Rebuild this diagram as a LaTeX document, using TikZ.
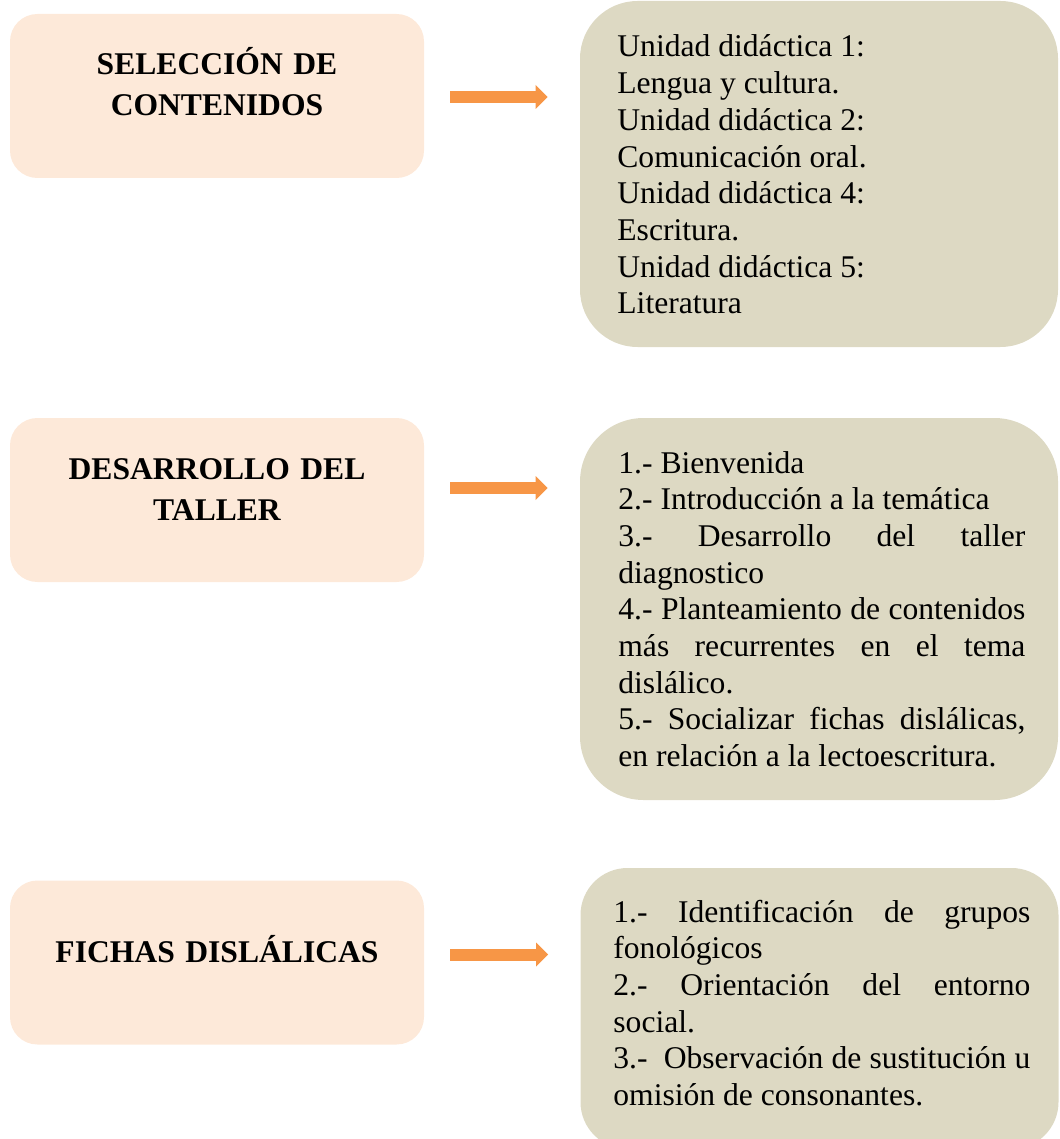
\documentclass[tikz,border=0pt]{standalone}
\usepackage{fontspec}
\setmainfont{Liberation Serif}
\usetikzlibrary{arrows.meta,positioning}
\hyphenpenalty=10000
\exhyphenpenalty=10000
\tolerance=10000
\hbadness=10000
\definecolor{durazno}{HTML}{FDE9D9}
\definecolor{arena}{HTML}{DDD9C3}
\definecolor{naranja}{HTML}{F79646}
\tikzstyle{etapa}=[rectangle,rounded corners=13.7pt,fill=durazno,minimum width=207pt,minimum height=82pt,inner sep=0pt]
\tikzstyle{detalle}=[rectangle,fill=arena,minimum width=239pt,inner sep=0pt]
\tikzstyle{titulo}=[text width=200pt,align=center,inner sep=0pt,anchor=base,font=\fontsize{15.8}{20.5}\selectfont\bfseries]
\tikzstyle{lista}=[align=justify,inner sep=0pt,anchor=base west,font=\fontsize{15.8}{18.35}\selectfont]
\tikzstyle{flecha}=[draw=naranja,line width=6pt,-{Triangle[length=6pt,width=12pt,line width=0pt]}]

\begin{document}
\begin{tikzpicture}[x=0.5pt,y=-0.5pt]
    \useasboundingbox (0,0) rectangle (1059,1139);
    % First we draw the boxes
    \foreach \pos/\name in {{(217,96)/s1}, {(217,500)/s2}, {(217,962.5)/s3}}
        \node[etapa] (\name) at \pos {};
    \node[detalle,minimum height=173pt,rounded corners=28.8pt] (d1) at (819,174) {};
    \node[detalle,minimum height=191pt,rounded corners=31.8pt] (d2) at (819,609) {};
    \node[detalle,minimum height=140.5pt,rounded corners=23.5pt] (d3) at (819.5,1008.5) {};

    % Titles of the stages
    \node[titulo] (n1) at (217,75) {SELECCIÓN DE\\CONTENIDOS};
    \node[titulo] (n2) at (217,479) {DESARROLLO DEL\\TALLER};
    \node[titulo] (n3) at (217,962) {FICHAS DISLÁLICAS};

    % Contents of each stage
    \node[lista,text width=203.5pt] (c1) at (617,57) {Unidad didáctica 1:\par
        Lengua y cultura.\par
        Unidad didáctica 2:\par
        Comunicación oral.\par
        Unidad didáctica 4:\par
        Escritura.\par
        Unidad didáctica 5:\par
        Literatura};
    \node[lista,text width=203.5pt] (c2) at (618,473) {1.- Bienvenida\par
        2.- Introducción a la temática\par
        3.- Desarrollo del taller\linebreak diagnostico\par
        4.- Planteamiento de contenidos\linebreak más recurrentes en el tema\linebreak dislálico.\par
        5.- Socializar fichas dislálicas,\linebreak en relación a la lectoescritura.};
    \node[lista,text width=208.5pt] (c3) at (613,922) {1.- Identificación de grupos\linebreak fonológicos\par
        2.- Orientación del entorno\linebreak social.\par
        3.-\ \ Observación de sustitución u\linebreak omisión de consonantes.};

    % Connect stages with arrows
    \foreach \source/\dest/\dy in {s1/d1/-0.5pt, s2/d2/6pt, s3/d3/4pt}
        \draw[flecha] ([xshift=13pt,yshift=\dy]\source.east) -- ([xshift=-16pt,yshift=\dy]\source.east -| \dest.west);
\end{tikzpicture}
\end{document}
